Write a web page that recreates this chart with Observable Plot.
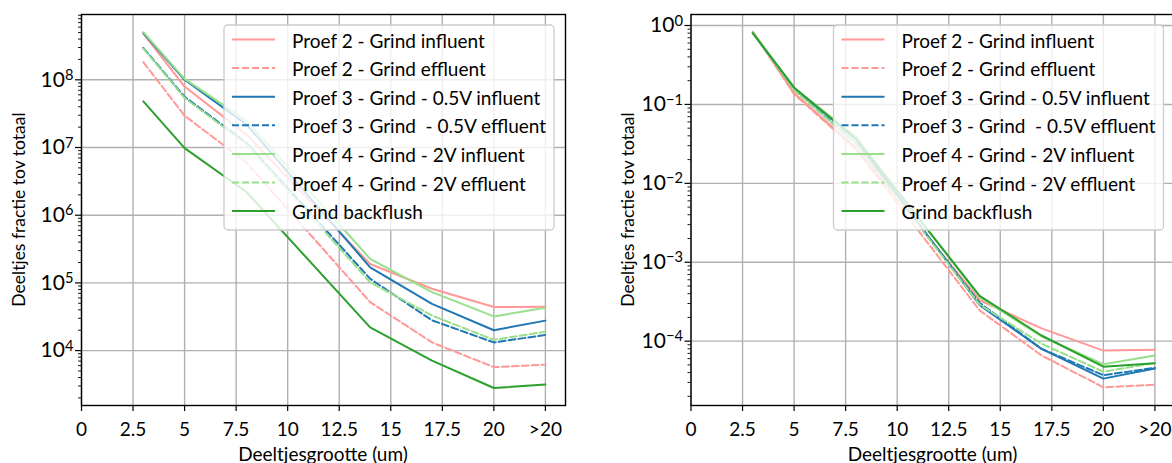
<!DOCTYPE html>
<html><head><meta charset="utf-8">
<script src="https://cdn.jsdelivr.net/npm/d3@7"></script>
<script src="https://cdn.jsdelivr.net/npm/@observablehq/plot@0.6"></script>
<style>
html,body{margin:0;padding:0;background:#fff;overflow:hidden;width:1172px;height:463px;}
#wrap{position:relative;width:1172px;height:463px;overflow:hidden;}
.panel{position:absolute;top:0;}
svg text{font-family:Lato,"Open Sans",sans-serif;}
</style></head><body><div id="wrap"></div>
<script>
// ---------- data ----------
const sizes = [3, 5, 8, 14, 17, 20, 22.5];
const xTickValues = [0, 2.5, 5, 7.5, 10, 12.5, 15, 17.5, 20, 22.5];
const xTickLabels = ["0", "2.5", "5", "7.5", "10", "12.5", "15", "17.5", "20", ">20"];

const seriesNames = [
  "Proef 2 - Grind influent",
  "Proef 2 - Grind effluent",
  "Proef 3 - Grind - 0.5V influent",
  "Proef 3 - Grind  - 0.5V effluent",
  "Proef 4 - Grind - 2V influent",
  "Proef 4 - Grind - 2V effluent",
  "Grind backflush"
];
const seriesColors = ["#ff9896", "#ff9896", "#1f77b4", "#1f77b4", "#98df8a", "#98df8a", "#2ca02c"];
const seriesDashed = [false, true, false, true, false, true, false];

// left panel: particle counts
const p2InfluentCount = [4.8e8, 7.95e7, 1.55e7, 1.9e5, 8.2e4, 4.4e4, 4.45e4];
const p2EffluentCount = [1.82e8, 2.95e7, 6.0e6, 5.2e4, 1.32e4, 5.7e3, 6.2e3];
const p3InfluentCount = [4.9e8, 1.0e8, 2.2e7, 1.7e5, 4.9e4, 2.0e4, 2.77e4];
const p3EffluentCount = [2.97e8, 5.6e7, 1.17e7, 1.15e5, 2.8e4, 1.32e4, 1.7e4];
const p4InfluentCount = [5.05e8, 1.03e8, 2.5e7, 2.27e5, 7.3e4, 3.2e4, 4.3e4];
const p4EffluentCount = [2.9e8, 5.4e7, 1.12e7, 1.02e5, 3.3e4, 1.44e4, 1.9e4];
const backflushCount = [4.8e7, 9.8e6, 2.2e6, 2.2e4, 7.1e3, 2.8e3, 3.15e3];

// right panel: fraction of total
const p2InfluentFrac = [0.83, 0.14, 0.028, 3.3e-4, 1.45e-4, 7.6e-5, 7.8e-5];
const p2EffluentFrac = [0.84, 0.135, 0.027, 2.45e-4, 6.6e-5, 2.6e-5, 2.8e-5];
const p3InfluentFrac = [0.80, 0.163, 0.036, 2.85e-4, 8.0e-5, 3.35e-5, 4.5e-5];
const p3EffluentFrac = [0.81, 0.154, 0.032, 3.05e-4, 8.0e-5, 3.7e-5, 4.6e-5];
const p4InfluentFrac = [0.80, 0.163, 0.039, 3.6e-4, 1.15e-4, 5.1e-5, 6.6e-5];
const p4EffluentFrac = [0.82, 0.152, 0.0315, 2.9e-4, 9.3e-5, 4.1e-5, 5.3e-5];
const backflushFrac = [0.80, 0.163, 0.037, 3.75e-4, 1.18e-4, 4.75e-5, 5.25e-5];

const leftYExponents = [4, 5, 6, 7, 8];
const rightYExponents = [-4, -3, -2, -1, 0];

const xLabel = "Deeltjesgrootte (um)";
const yLabel = "Deeltjes fractie tov totaal";

// ---------- drawing ----------
const FONT = "19px";
function minorTicks(exps, domain) {
  const out = [];
  for (let e = exps[0] - 1; e <= exps[exps.length - 1]; e++)
    for (let m = 2; m <= 9; m++) {
      const v = m * Math.pow(10, e);
      if (v >= domain[0] && v <= domain[1]) out.push(v);
    }
  return out;
}

function makePanel({left, width, marginLeft, marginRight, yDomain, yExps, seriesValues}) {
  const yMajor = yExps.map(e => Math.pow(10, e));
  const yMinor = minorTicks(yExps, yDomain);
  const lines = seriesValues.map((vals, i) =>
    Plot.line(sizes.map((x, j) => ({x, y: vals[j]})), {
      x: "x", y: "y", stroke: seriesColors[i], strokeWidth: 2,
      strokeDasharray: seriesDashed[i] ? "7,3" : null
    }));
  const svg = Plot.plot({
    width, height: 463,
    marginLeft, marginRight, marginTop: 14, marginBottom: 58,
    style: {fontFamily: "Lato, 'Open Sans', sans-serif", fontSize: FONT, color: "black", background: "transparent", overflow: "visible"},
    x: {domain: [0, 23.475], label: null},
    y: {type: "log", domain: yDomain, label: null},
    marks: [
      Plot.gridX(xTickValues, {stroke: "#b0b0b0", strokeOpacity: 1, strokeWidth: 1.4}),
      Plot.gridY(yMajor, {stroke: "#b0b0b0", strokeOpacity: 1, strokeWidth: 1.4}),
      ...lines,
      Plot.frame({stroke: "black", strokeWidth: 1.4}),
      Plot.axisX(xTickValues, {tickFormat: d => xTickLabels[xTickValues.indexOf(d)], tickSize: 6, tickPadding: 11, strokeWidth: 1.2, label: null}),
      Plot.axisY(yMajor, {tickFormat: d => "E" + Math.round(Math.log10(d)), tickSize: 6, tickPadding: 2, strokeWidth: 1.2, label: null}),
      Plot.axisY(yMinor, {tickFormat: () => "", tickSize: 3, strokeWidth: 0.9, label: null})
    ]
  });
  svg.classList.add("panel");
  svg.style.left = left + "px";
  const s = d3.select(svg);
  // superscript tick labels
  s.selectAll("text").each(function () {
    const t = this.textContent;
    if (/^E-?\d+$/.test(t)) {
      const e = t.slice(1).replace("-", "\u2212");
      const el = d3.select(this);
      el.text("");
      el.attr("font-size", "21px");
      el.append("tspan").text("10");
      el.append("tspan").attr("dy", "-0.45em").attr("font-size", "0.7em").text(e);
    }
  });
  const x0 = marginLeft, x1 = width - marginRight;
  // axis titles
  s.append("text").attr("x", (x0 + x1) / 2).attr("y", 460.5).attr("text-anchor", "middle")
    .attr("font-size", FONT).attr("fill", "black").text(xLabel);
  s.append("text").attr("transform", `translate(${x0 - 56.5},209.5) rotate(-90)`).attr("text-anchor", "middle")
    .attr("font-size", "17.5px").attr("fill", "black").text(yLabel);
  // legend
  const lx = x0 + 143;
  const g = s.append("g").attr("text-anchor", "start");
  g.append("rect").attr("x", lx).attr("y", 25).attr("width", 330).attr("height", 205).attr("rx", 4)
    .attr("fill", "white").attr("fill-opacity", 0.8).attr("stroke", "#cccccc").attr("stroke-width", 1.3);
  seriesNames.forEach((name, i) => {
    const cy = 39.5 + i * 28.6;
    g.append("line").attr("x1", lx + 8).attr("x2", lx + 51).attr("y1", cy).attr("y2", cy)
      .attr("stroke", seriesColors[i]).attr("stroke-width", 2)
      .attr("stroke-dasharray", seriesDashed[i] ? "7,3" : null);
    g.append("text").attr("x", lx + 68).attr("y", cy + 1.5).attr("dy", "0.35em").attr("text-anchor", "start")
      .attr("font-size", FONT).attr("fill", "black").style("white-space", "pre").text(name);
  });
  document.getElementById("wrap").appendChild(svg);
}

makePanel({
  left: 0, width: 586, marginLeft: 81, marginRight: 21,
  yDomain: [1545, 9.22e8], yExps: leftYExponents,
  seriesValues: [p2InfluentCount, p2EffluentCount, p3InfluentCount, p3EffluentCount, p4InfluentCount, p4EffluentCount, backflushCount]
});
makePanel({
  left: 600, width: 600, marginLeft: 90.5, marginRight: 25.5,
  yDomain: [1.53e-5, 1.379], yExps: rightYExponents,
  seriesValues: [p2InfluentFrac, p2EffluentFrac, p3InfluentFrac, p3EffluentFrac, p4InfluentFrac, p4EffluentFrac, backflushFrac]
});
</script></body></html>
